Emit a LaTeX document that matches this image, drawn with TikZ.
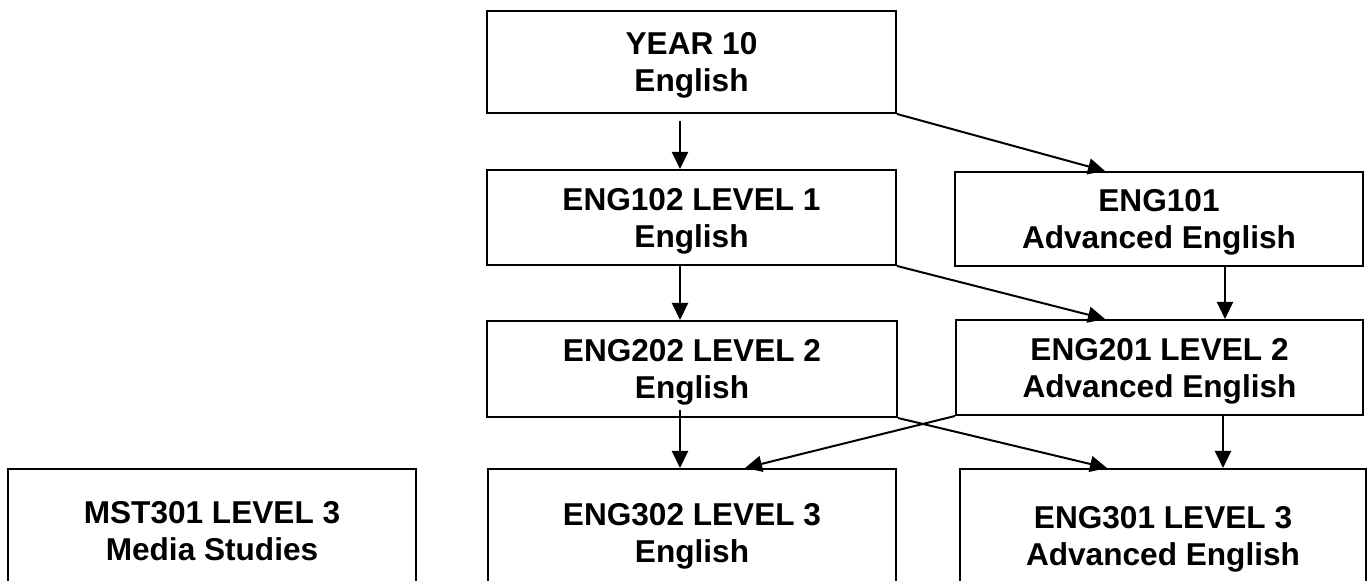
\documentclass[tikz,border=0pt]{standalone}
\usepackage{fontspec}
\setmainfont{Liberation Sans}
\usetikzlibrary{arrows.meta}
\begin{document}
\begin{tikzpicture}[x=0.5pt,y=-0.5pt,
  box/.style={draw,line width=1pt,rectangle,inner sep=0pt,align=center,text depth=0pt,
    font=\bfseries\fontsize{15.8pt}{18.5pt}\selectfont},
  arr/.style={line width=1pt,-{Triangle[length=8.5pt,width=8pt]}}]
\useasboundingbox (0,0) rectangle (1370,581);
\clip (0,0) rectangle (1370,581);
\node[box,minimum width=204.5pt,minimum height=51pt] (y10) at (691.5,62) {YEAR 10\\English};
\node[box,minimum width=204.5pt,minimum height=47.5pt] (e102) at (691.5,217.5) {ENG102 LEVEL 1\\English};
\node[box,minimum width=204pt,minimum height=47pt] (e101) at (1159,219) {ENG101\\Advanced English};
\node[box,minimum width=205pt,minimum height=48pt] (e202) at (692,369) {ENG202 LEVEL 2\\English};
\node[box,minimum width=203.5pt,minimum height=47.5pt] (e201) at (1159.5,367.5) {ENG201 LEVEL 2\\Advanced English};
\node[box,minimum width=204pt,minimum height=62pt] (mst) at (212,531) {MST301 LEVEL 3\\Media Studies};
\node[box,minimum width=204pt,minimum height=63.5pt] (e302) at (692,532.5) {ENG302 LEVEL 3\\English};
\node[box,minimum width=203pt,minimum height=66.5pt] (e301) at (1163,535.5) {ENG301 LEVEL 3\\Advanced English};
\draw[arr] ([xshift=-5.75pt,yshift=-3.5pt]y10.south) -- ([xshift=-5.75pt]e102.north);
\draw[arr] (y10.south east) -- ([xshift=-27pt]e101.north);
\draw[arr] ([xshift=-5.75pt]e102.south) -- ([xshift=-6pt]e202.north);
\draw[arr] (e102.south east) -- ([xshift=-27.25pt]e201.north);
\draw[arr] ([xshift=33pt]e101.south) -- ([xshift=32.75pt]e201.north);
\draw[arr] ([xshift=-6pt,yshift=4pt]e202.south) -- ([xshift=-6pt]e302.north);
\draw[arr] (e201.south west) -- ([xshift=26.5pt]e302.north);
\draw[arr] (e202.south east) -- ([xshift=-28pt]e301.north);
\draw[arr] ([xshift=31.75pt]e201.south) -- ([xshift=30pt]e301.north);
\end{tikzpicture}
\end{document}
